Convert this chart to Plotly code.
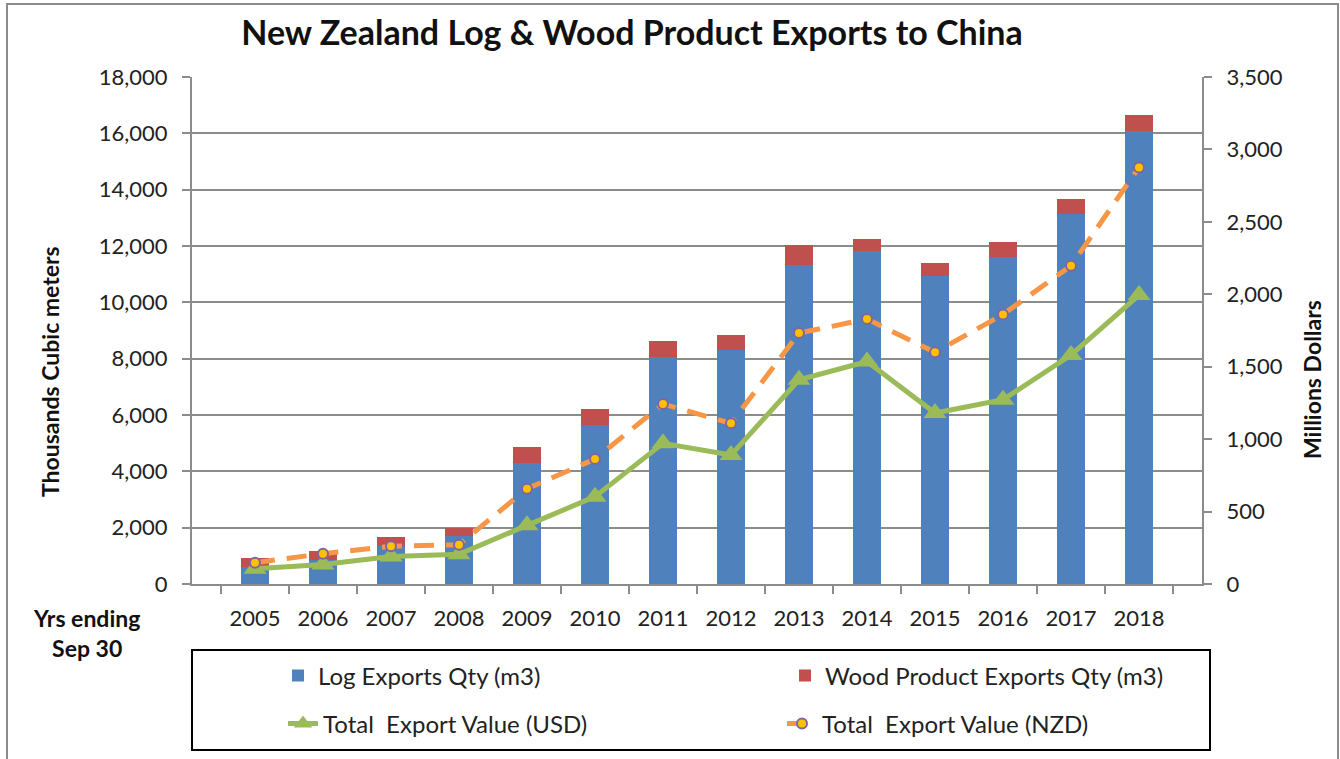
import plotly.graph_objects as go

years = ["2005", "2006", "2007", "2008", "2009", "2010", "2011", "2012",
         "2013", "2014", "2015", "2016", "2017", "2018"]
log_qty = [610, 860, 1340, 1700, 4300, 5650, 8070, 8310, 11320, 11820, 10950, 11620, 13130, 16070]
wood_qty = [320, 310, 320, 300, 555, 550, 545, 530, 710, 430, 440, 510, 535, 570]
usd_value = [105, 135, 190, 205, 405, 603, 971, 890, 1410, 1536, 1180, 1272, 1581, 1995]
nzd_value = [147, 209, 260, 271, 658, 863, 1243, 1109, 1732, 1829, 1599, 1861, 2197, 2876]

FONT = "Lato"
TXT = "#222222"
GRID = "#8c8c8c"

# plot area pixels
L, R, T, B = 192, 1202, 77, 584
W, H = 1340, 759
pw, ph = R - L, B - T


def px(x):
    return (x - L) / pw


def py(y):
    return (B - y) / ph


fig = go.Figure()
fig.add_trace(go.Bar(x=years, y=log_qty, name="Log Exports Qty (m3)",
                     marker=dict(color="#4F81BD", line=dict(width=0)), width=0.4,
                     legend="legend"))
fig.add_trace(go.Bar(x=years, y=wood_qty, name="Wood Product Exports Qty (m3)",
                     marker=dict(color="#C0504D", line=dict(width=0)), width=0.4,
                     legend="legend2"))
fig.add_trace(go.Scatter(x=years, y=usd_value, name="Total  Export Value (USD)", yaxis="y2",
                         mode="lines+markers",
                         line=dict(color="#9BBB59", width=5),
                         marker=dict(symbol="triangle-up", size=20, color="#9BBB59"),
                         legend="legend3"))
fig.add_trace(go.Scatter(x=years, y=nzd_value, name="Total  Export Value (NZD)", yaxis="y2",
                         mode="lines+markers",
                         line=dict(color="#F79646", width=5, dash="20px,12px"),
                         marker=dict(symbol="circle", size=10, color="#FFC000",
                                     line=dict(color="#8064A2", width=2)),
                         legend="legend4"))

leg_common = dict(orientation="h", bgcolor="rgba(0,0,0,0)", borderwidth=0,
                  font=dict(family=FONT, size=24, color=TXT),
                  xanchor="left", yanchor="middle")

fig.update_layout(
    width=W, height=H,
    margin=dict(l=L, r=W - R, t=T, b=H - B, autoexpand=False),
    paper_bgcolor="white", plot_bgcolor="white",
    barmode="stack",
    font=dict(family=FONT, size=22, color=TXT),
    title=dict(text="<b>New Zealand Log & Wood Product Exports to China</b>",
               x=px(632), xref="paper", xanchor="center",
               y=1 - 33 / H, yref="container", yanchor="middle",
               font=dict(family=FONT, size=34, color="#111111")),
    xaxis=dict(type="category", showgrid=False, showline=True, linecolor=GRID, linewidth=2,
               ticks="outside", tickson="boundaries", ticklen=8, tickwidth=2, tickcolor=GRID,
               tickfont=dict(size=22, color=TXT), ticklabelstandoff=14),
    yaxis=dict(range=[0, 18000], dtick=2000, tickformat=",", showgrid=True,
               gridcolor=GRID, gridwidth=2, showline=True, linecolor=GRID, linewidth=2,
               ticks="outside", ticklen=8, tickwidth=2, tickcolor=GRID,
               tickfont=dict(size=22, color=TXT), ticklabelstandoff=10, zeroline=False),
    yaxis2=dict(range=[0, 3500], dtick=500, tickformat=",", overlaying="y", side="right",
                showgrid=False, showline=True, linecolor=GRID, linewidth=2,
                ticks="outside", ticklen=8, tickwidth=2, tickcolor=GRID,
                tickfont=dict(size=22, color=TXT), ticklabelstandoff=10, zeroline=False),
    legend=dict(x=px(278), y=py(676), **leg_common),
    legend2=dict(x=px(785), y=py(676), **leg_common),
    legend3=dict(x=px(283), y=py(724), **leg_common),
    legend4=dict(x=px(782), y=py(724), **leg_common),
    showlegend=True,
)

ann_font = dict(family=FONT, size=23, color="#111111")
fig.add_annotation(text="<b>Thousands Cubic meters</b>", textangle=-90,
                   xref="paper", yref="paper", x=px(50), y=py(372),
                   xanchor="center", yanchor="middle", showarrow=False, font=ann_font)
fig.add_annotation(text="<b>Millions Dollars</b>", textangle=-90,
                   xref="paper", yref="paper", x=px(1312), y=py(380),
                   xanchor="center", yanchor="middle", showarrow=False, font=ann_font)
fig.add_annotation(text="<b>Yrs ending<br>Sep 30</b>",
                   xref="paper", yref="paper", x=px(86), y=py(633),
                   xanchor="center", yanchor="middle", showarrow=False, font=ann_font)

# legend box and outer chart border
fig.add_shape(type="rect", xref="paper", yref="paper",
              x0=px(192), x1=px(1210), y0=py(650), y1=py(750),
              line=dict(color="black", width=2), fillcolor="rgba(0,0,0,0)")
fig.add_shape(type="rect", xref="paper", yref="paper",
              x0=px(7), x1=px(1338), y0=py(770), y1=py(4),
              line=dict(color="#8c8c8c", width=2), fillcolor="rgba(0,0,0,0)")

fig.write_html("out.html", config={"displayModeBar": False},
               post_script="document.body.style.margin='0';"
                           "document.body.style.overflow='hidden';")
